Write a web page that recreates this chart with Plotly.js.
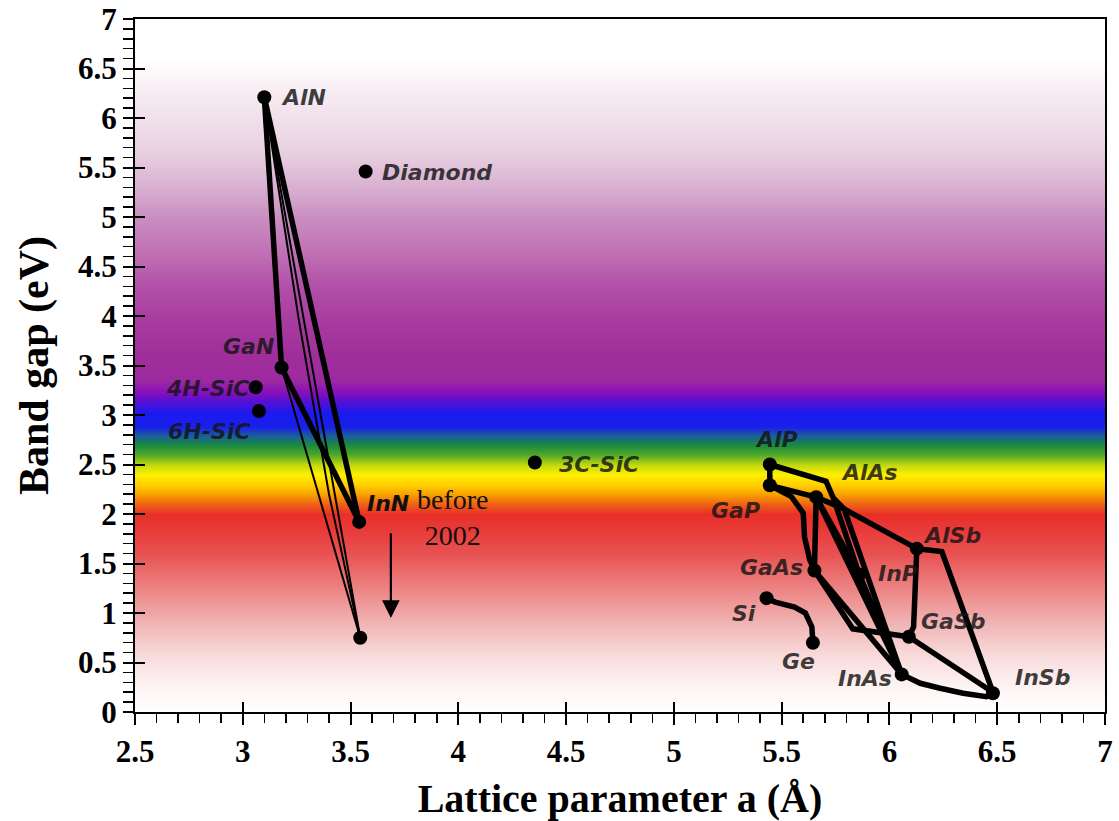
<!DOCTYPE html>
<html>
<head>
<meta charset="utf-8">
<script src="https://cdn.plot.ly/plotly-3.0.1.min.js"></script>
<style>
  html, body { margin: 0; padding: 0; background: #ffffff; }
  #chart { width: 1119px; height: 821px; }
</style>
</head>
<body>
<div id="chart"></div>
<script>
// ---------- Data ----------
// Semiconductor points: lattice parameter a (Å) and band gap (eV)
const dotNames   = ['AlN','Diamond','GaN','4H-SiC','6H-SiC','InN (before 2002)','InN','3C-SiC',
                    'AlP','GaP','AlAs','GaAs','InP','AlSb','GaSb','InAs','InSb','Si','Ge'];
const dotLattice = [3.10, 3.57, 3.18, 3.06, 3.075, 3.54, 3.545, 4.355,
                    5.445, 5.445, 5.66, 5.652, 5.86, 6.127, 6.09, 6.057, 6.48, 5.43, 5.645];
const dotGap     = [6.21, 5.46, 3.48, 3.28, 3.04, 1.92, 0.75, 2.52,
                    2.50, 2.29, 2.17, 1.43, 1.39, 1.65, 0.76, 0.38, 0.19, 1.15, 0.70];

// Alloy curves (a values, gap values)
const cAlN_GaN      = { a: [3.10, 3.18],               g: [6.21, 3.48] };
const cAlN_InNold   = { a: [3.10, 3.54],               g: [6.21, 1.92] };
const cGaN_InNold   = { a: [3.18, 3.54],               g: [3.48, 1.92] };
const cAlN_InN      = { a: [3.10, 3.545],              g: [6.21, 0.75] };
const cAlN_InN_bow  = { a: [3.10, 3.26, 3.40, 3.545],  g: [6.21, 3.96, 2.20, 0.75] };
const cGaN_InN      = { a: [3.18, 3.545],              g: [3.48, 0.75] };

const cAlP_GaP      = { a: [5.445, 5.445],             g: [2.50, 2.29] };
const cAlP_InAs     = { a: [5.445, 5.706, 5.74, 5.79, 6.057], g: [2.50, 2.33, 2.16, 2.05, 0.38] };
const cAlP_InP      = { a: [5.74, 5.86],               g: [2.16, 1.39] };
const cGaP_AlSb     = { a: [5.445, 5.66, 5.79, 6.127], g: [2.29, 2.17, 2.05, 1.65] };
const cGaP_GaAs     = { a: [5.445, 5.545, 5.60, 5.606, 5.63, 5.652], g: [2.29, 2.175, 2.01, 1.77, 1.54, 1.43] };
const cAlAs_GaAs    = { a: [5.66, 5.652],              g: [2.17, 1.43] };
const cAlAs_InP     = { a: [5.66, 5.86],               g: [2.17, 1.39] };
const cAlAs_InAs    = { a: [5.66, 6.057],              g: [2.17, 0.38] };
const cInP_InAs     = { a: [5.86, 6.057],              g: [1.39, 0.38] };
const cGaAs_InAs    = { a: [5.652, 6.057],             g: [1.43, 0.38] };
const cGaAs_GaSb    = { a: [5.652, 5.75, 5.83, 6.09],  g: [1.43, 1.10, 0.84, 0.76] };
const cAlSb_GaSb    = { a: [6.127, 6.12, 6.112, 6.09], g: [1.65, 1.27, 0.86, 0.76] };
const cAlSb_InSb    = { a: [6.127, 6.243, 6.48],       g: [1.65, 1.62, 0.20] };
const cGaSb_InSb    = { a: [6.09, 6.48],               g: [0.76, 0.20] };
const cInAs_InSb    = { a: [6.057, 6.143, 6.235, 6.342, 6.45, 6.48], g: [0.38, 0.29, 0.24, 0.19, 0.155, 0.19] };
const cSi_Ge        = { a: [5.43, 5.47, 5.56, 5.61, 5.64, 5.645], g: [1.15, 1.11, 1.06, 1.00, 0.86, 0.70] };

const thickCurves = [cAlN_GaN, cAlN_InNold, cGaN_InNold,
                     cAlP_GaP, cAlP_InAs, cAlP_InP, cGaP_AlSb, cGaP_GaAs, cAlAs_GaAs, cAlAs_InP,
                     cAlAs_InAs, cInP_InAs, cGaAs_InAs, cGaAs_GaSb, cAlSb_GaSb, cAlSb_InSb,
                     cGaSb_InSb, cInAs_InSb, cSi_Ge];
const thinCurves  = [cAlN_InN, cAlN_InN_bow, cGaN_InN];

// Labels: text, a, gap, anchor
const labelText   = ['AlN','Diamond','GaN','4H-SiC','6H-SiC','3C-SiC','AlP','AlAs','GaP','AlSb',
                     'GaAs','InP','Si','GaSb','Ge','InAs','InSb'];
const labelA      = [3.167, 3.637, 3.153, 3.04, 3.043, 4.456, 5.477, 5.767, 5.408, 6.145,
                     5.606, 5.938, 5.39, 6.135, 5.49, 6.02, 6.573];
const labelG      = [6.21, 5.45, 3.69, 3.27, 2.83, 2.50, 2.75, 2.42, 2.04, 1.78,
                     1.46, 1.40, 1.00, 0.91, 0.515, 0.34, 0.35];
const labelAnchor = ['left','left','right','right','right','left','center','left','right','left',
                     'right','left','right','left','left','right','left'];

// "InN before 2002" note and arrow
const noteInN    = { a: 3.567, g: 2.11 };
const noteYear   = { a: 3.975, g: 1.96 };
const arrowA     = 3.687;
const arrowFrom  = 1.82;
const arrowTo    = 0.95;

// Axes
const xRange = [2.5, 7];
const yRange = [0, 7];

// Background colour band (band gap value -> colour)
const bandValues = [0.0, 0.25, 0.6, 0.93, 1.26, 1.6, 1.85, 2.0, 2.1, 2.2, 2.3, 2.4, 2.5, 2.6,
                    2.7, 2.8, 2.88, 3.02, 3.15, 3.24, 3.35, 3.6, 3.96, 4.3, 4.63, 4.97, 5.3,
                    5.65, 6.3, 6.6, 7.0];
const bandColors = ['#ffffff','#fdf4f4','#f8d8d8','#f0b0b0','#ec8282','#e85252','#e83a38','#e83028',
                    '#f06018','#f8a000','#ffd000','#fff000','#c0d810','#50a828','#1a8a40','#1a5aa0',
                    '#1a20e8','#1a1af0','#5a10d0','#8a10b8','#9c2aa0','#a02e9a','#a83ca0','#b050a8',
                    '#c070b4','#c88cc0','#d8b0d0','#e8d0e0','#f8eef4','#ffffff','#ffffff'];

// ---------- Build traces ----------
const colorscale = bandValues.map((v, i) => [v / yRange[1], bandColors[i]]);

const traces = [];
traces.push({
  type: 'heatmap',
  x: xRange,
  y: yRange,
  z: [[yRange[0], yRange[0]], [yRange[1], yRange[1]]],
  zmin: yRange[0], zmax: yRange[1],
  zsmooth: 'best',
  colorscale: colorscale,
  showscale: false,
  hoverinfo: 'skip'
});

thinCurves.forEach(c => traces.push({
  type: 'scatter', mode: 'lines', x: c.a, y: c.g,
  line: { color: '#000000', width: 2 }, hoverinfo: 'skip', showlegend: false
}));
thickCurves.forEach(c => traces.push({
  type: 'scatter', mode: 'lines', x: c.a, y: c.g,
  line: { color: '#000000', width: 5.5 }, hoverinfo: 'skip', showlegend: false
}));
traces.push({
  type: 'scatter', mode: 'markers', x: dotLattice, y: dotGap, text: dotNames,
  marker: { color: '#000000', size: 14 }, hoverinfo: 'text', showlegend: false
});
// helper so the overlay axes (inner half of major ticks) are drawn
traces.push({
  type: 'scatter', mode: 'markers', x: [xRange[0]], y: [yRange[0]], xaxis: 'x2', yaxis: 'y2',
  marker: { opacity: 0 }, hoverinfo: 'skip', showlegend: false
});

// ---------- Annotations ----------
const labelFont = { family: 'DejaVu Sans, Verdana, sans-serif', size: 22, color: 'rgba(20,20,20,0.82)', weight: 'bold', style: 'italic' };
const annotations = labelText.map((t, i) => ({
  x: labelA[i], y: labelG[i], xref: 'x', yref: 'y', text: t, showarrow: false,
  xanchor: labelAnchor[i], yanchor: 'middle', font: labelFont
}));
annotations.push({ x: noteInN.a, y: noteInN.g, xref: 'x', yref: 'y', text: 'InN', showarrow: false,
  xanchor: 'left', yanchor: 'middle',
  font: { family: 'DejaVu Sans, sans-serif', size: 22, color: '#111111', style: 'italic', weight: 'bold' } });
annotations.push({ x: noteYear.a, y: noteYear.g, xref: 'x', yref: 'y', text: 'before<br>2002', showarrow: false,
  xanchor: 'center', yanchor: 'middle', align: 'center',
  font: { family: 'Liberation Serif, Times New Roman, serif', size: 28, color: '#111111' } });
annotations.push({ x: arrowA, y: arrowTo, ax: arrowA, ay: arrowFrom, xref: 'x', yref: 'y',
  axref: 'x', ayref: 'y', text: '', showarrow: true, arrowhead: 2, arrowsize: 1.6,
  arrowwidth: 2.2, arrowcolor: '#000000' });

// ---------- Layout ----------
const tickFont = { family: 'Liberation Serif, Times New Roman, serif', size: 31, color: '#000000', weight: 'bold' };
const layout = {
  width: 1119, height: 821,
  margin: { l: 135, r: 14, t: 19, b: 109 },
  paper_bgcolor: '#ffffff', plot_bgcolor: '#ffffff',
  showlegend: false,
  xaxis: {
    range: xRange, tick0: 2.5, dtick: 0.5, ticks: 'outside', ticklen: 11, tickwidth: 2,
    tickcolor: '#000000', showline: true, linewidth: 2, linecolor: '#000000', mirror: true,
    showgrid: false, zeroline: false, tickfont: tickFont, ticklabeloverflow: 'allow',
    minor: { dtick: 0.1, ticks: 'outside', ticklen: 9, tickwidth: 1.5, tickcolor: '#000000', showgrid: false },
    title: { text: 'Lattice parameter a (Å)', standoff: 18,
             font: { family: 'Liberation Serif, Times New Roman, serif', size: 40, color: '#000000', weight: 'bold' } }
  },
  yaxis: {
    range: yRange, tick0: 0, dtick: 0.5, ticks: 'outside', ticklen: 10, tickwidth: 2,
    tickcolor: '#000000', showline: true, linewidth: 2, linecolor: '#000000', mirror: true,
    showgrid: false, zeroline: false, tickfont: tickFont, ticklabeloverflow: 'allow',
    minor: { dtick: 0.1, ticks: 'outside', ticklen: 10, tickwidth: 1.5, tickcolor: '#000000', showgrid: false },
    title: { text: 'Band gap (eV)', standoff: 16,
             font: { family: 'Liberation Serif, Times New Roman, serif', size: 42, color: '#000000', weight: 'bold' } }
  },
  xaxis2: {
    overlaying: 'x', anchor: 'y2', range: xRange, tick0: 2.5, dtick: 0.5, ticks: 'inside',
    ticklen: 10, tickwidth: 2, tickcolor: '#000000', showticklabels: false, showline: false,
    showgrid: false, zeroline: false
  },
  yaxis2: {
    overlaying: 'y', anchor: 'x2', range: yRange, tick0: 0, dtick: 0.5, ticks: 'inside',
    ticklen: 10, tickwidth: 2, tickcolor: '#000000', showticklabels: false, showline: false,
    showgrid: false, zeroline: false
  },
  annotations: annotations
};

Plotly.newPlot('chart', traces, layout, { staticPlot: true, displayModeBar: false });
</script>
</body>
</html>
